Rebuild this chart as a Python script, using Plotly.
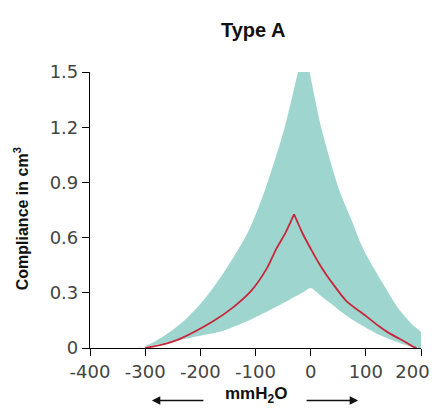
import plotly.graph_objects as go

# ---- data ----
band_upper_x = [-320, -304, -268, -228, -189, -147, -112, -83, -47, -23, -12, -2, 19, 52, 72, 95, 131, 160, 185, 200]
band_upper_y = [0, 0.005, 0.061, 0.152, 0.278, 0.459, 0.640, 0.857, 1.2, 1.5, 1.64, 1.5, 1.2, 0.857, 0.71, 0.54, 0.35, 0.21, 0.125, 0.085]

band_lower_x = [-320, -290, -255, -200, -165, -112, -74, -40, -15, 0, 16, 33, 63, 95, 124, 150, 172, 190, 200]
band_lower_y = [0, 0.012, 0.034, 0.067, 0.088, 0.15, 0.206, 0.26, 0.3, 0.326, 0.29, 0.25, 0.18, 0.12, 0.072, 0.04, 0.016, 0.004, 0]

red_x = [-300, -270, -237, -177, -140, -108, -80, -62, -45, -30, -15, 0, 16, 28, 40, 64, 101, 124, 140, 161, 173, 185, 192]
red_y = [0, 0.018, 0.05, 0.145, 0.222, 0.31, 0.43, 0.54, 0.63, 0.727, 0.625, 0.54, 0.455, 0.4, 0.35, 0.258, 0.172, 0.118, 0.085, 0.05, 0.03, 0.008, 0]

x_ticks = [-400, -300, -200, -100, 0, 100, 200]
x_tick_labels = ["-400", "-300", "-200", "-100", "0", "100", "200"]
y_ticks = [0, 0.3, 0.6, 0.9, 1.2, 1.5]
y_tick_labels = ["0", "0.3", "0.6", "0.9", "1.2", "1.5"]

BAND = "rgb(158,214,207)"
RED = "rgb(200,38,58)"

fig = go.Figure()

# band polygon: upper boundary left->right, lower boundary right->left
poly_x = band_upper_x + band_lower_x[::-1]
poly_y = band_upper_y + band_lower_y[::-1]
fig.add_trace(go.Scatter(x=poly_x, y=poly_y, mode="lines", fill="toself",
                         fillcolor=BAND, line=dict(width=0, color=BAND, shape="spline", smoothing=0.8),
                         hoverinfo="skip", showlegend=False))

# red mean curve, split at its peak to keep the cusp sharp
pk = red_y.index(max(red_y))
for xs, ys in [(red_x[:pk + 1], red_y[:pk + 1]), (red_x[pk:], red_y[pk:])]:
    fig.add_trace(go.Scatter(x=xs, y=ys, mode="lines",
                             line=dict(color=RED, width=1.8, shape="spline", smoothing=0.8),
                             hoverinfo="skip", showlegend=False))

# the last x label sits at the window edge; pad it with no-break spaces so it stays visible
x_tick_text = x_tick_labels[:-1] + [x_tick_labels[-1] + "\u00a0\u00a0\u00a0"]

tickfont = dict(family="DejaVu Sans", size=18, color="#444444")
fig.update_xaxes(range=[-400, 200], tickvals=x_ticks, ticktext=x_tick_text,
                 showline=True, linecolor="black", linewidth=1.2,
                 ticks="outside", ticklen=7, tickwidth=1.2, tickcolor="black",
                 showgrid=False, zeroline=False, tickfont=tickfont,
                 ticklabeloverflow="allow", automargin=False)
fig.update_yaxes(range=[0, 1.5], tickvals=y_ticks, ticktext=y_tick_labels,
                 showline=True, linecolor="black", linewidth=1.2,
                 ticks="outside", ticklen=7, tickwidth=1.2, tickcolor="black",
                 showgrid=False, zeroline=False, tickfont=tickfont, automargin=False)

bold = "Liberation Sans"
# the page body has an 8px margin, so the figure is sized/offset to fit inside the window
annotations = [
    dict(text="<b>Type A</b>", x=0.4925, y=1.152, xref="paper", yref="paper",
         showarrow=False, font=dict(family=bold, size=20, color="#111111"),
         xanchor="center", yanchor="middle"),
    dict(text="<b>Compliance in cm<sup>3</sup></b>", x=-0.208, y=0.467, xref="paper", yref="paper",
         showarrow=False, textangle=-90, font=dict(family=bold, size=16, color="#111111"),
         xanchor="center", yanchor="middle"),
    dict(text="<b>mmH<sub>2</sub>O</b>", x=0.502, y=-0.172, xref="paper", yref="paper",
         showarrow=False, font=dict(family=bold, size=17, color="#111111"),
         xanchor="center", yanchor="middle"),
    dict(text="", x=0.187, y=-0.19, xref="paper", yref="paper", ax=53, ay=0,
         showarrow=True, arrowhead=2, arrowsize=1.2, arrowwidth=1.4, arrowcolor="#111111"),
    dict(text="", x=0.81, y=-0.19, xref="paper", yref="paper", ax=-53, ay=0,
         showarrow=True, arrowhead=2, arrowsize=1.2, arrowwidth=1.4, arrowcolor="#111111"),
]

fig.update_layout(width=432, height=400, margin=dict(l=82, r=19, t=64, b=60, autoexpand=False),
                  plot_bgcolor="white", paper_bgcolor="white",
                  annotations=annotations, showlegend=False)

fig.write_html("out.html")
